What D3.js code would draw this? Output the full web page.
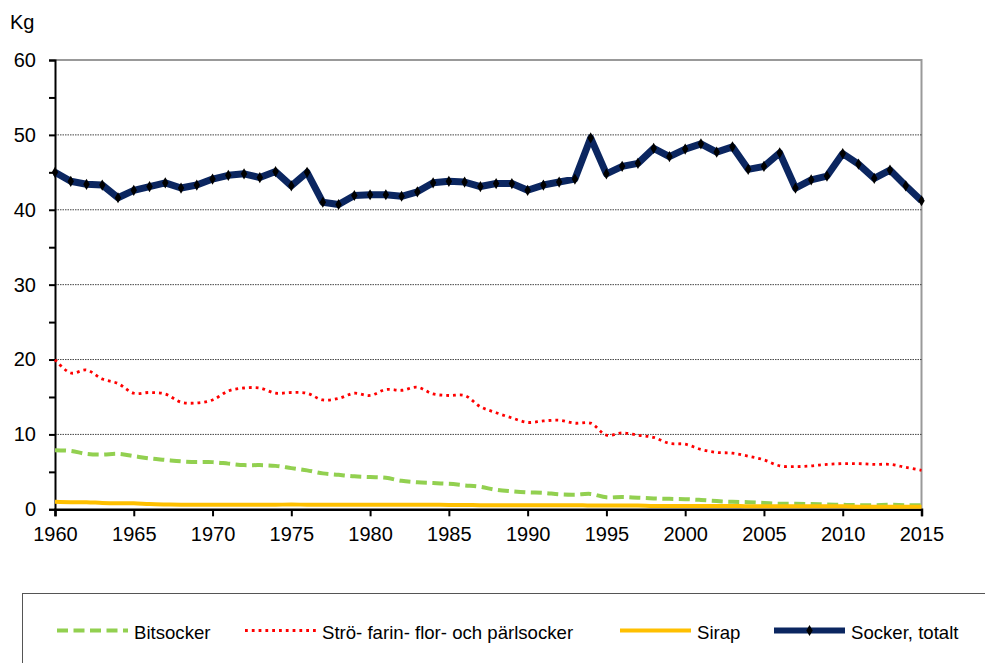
<!DOCTYPE html>
<html>
<head>
<meta charset="utf-8">
<script src="https://cdn.jsdelivr.net/npm/d3@7"></script>
<style>
  body { margin: 0; background: #fff; }
  svg { display: block; font-family: Arial, "Liberation Sans", sans-serif; }
</style>
</head>
<body>
<div id="chart"></div>
<script>
const years = d3.range(1960, 2016);

const bitsocker = [7.9, 7.8, 7.4, 7.3, 7.4, 7.1, 6.8, 6.6, 6.4, 6.3, 6.3, 6.1, 5.9, 5.9, 5.8, 5.5,
  5.2, 4.8, 4.6, 4.4, 4.3, 4.2, 3.8, 3.6, 3.5, 3.4, 3.2, 3.0, 2.6, 2.4, 2.25, 2.2,
  2.0, 1.95, 2.05, 1.6, 1.65, 1.55, 1.45, 1.4, 1.35, 1.25, 1.1, 1.0, 0.95, 0.85,
  0.75, 0.75, 0.7, 0.65, 0.6, 0.55, 0.55, 0.6, 0.55, 0.55];

const strosocker = [20.0, 18.2, 18.6, 17.4, 16.8, 15.5, 15.6, 15.4, 14.3, 14.2, 14.6, 15.8,
  16.2, 16.2, 15.5, 15.6, 15.5, 14.6, 14.8, 15.5, 15.2, 16.0, 15.9, 16.3, 15.4, 15.2,
  15.2, 13.7, 12.9, 12.2, 11.6, 11.8, 11.9, 11.5, 11.5, 9.9, 10.2, 9.9, 9.6, 8.8,
  8.7, 8.0, 7.6, 7.5, 7.1, 6.6, 5.8, 5.7, 5.8, 6.0, 6.1, 6.1, 6.0, 6.0, 5.6, 5.2];

const sirap = [1.0, 0.95, 0.95, 0.85, 0.8, 0.8, 0.7, 0.65, 0.62, 0.6, 0.6, 0.6, 0.6, 0.6,
  0.6, 0.65, 0.6, 0.6, 0.6, 0.6, 0.6, 0.62, 0.6, 0.6, 0.6, 0.58, 0.58, 0.55, 0.55,
  0.55, 0.55, 0.55, 0.55, 0.55, 0.5, 0.5, 0.5, 0.5, 0.45, 0.45, 0.45, 0.45, 0.45,
  0.45, 0.4, 0.4, 0.4, 0.4, 0.4, 0.4, 0.4, 0.35, 0.35, 0.35, 0.35, 0.35];

const totalt = [45.0, 43.8, 43.4, 43.3, 41.6, 42.6, 43.1, 43.6, 42.9, 43.3, 44.1, 44.6,
  44.8, 44.3, 45.1, 43.2, 45.0, 41.0, 40.7, 41.9, 42.0, 42.0, 41.8, 42.4, 43.6, 43.8,
  43.7, 43.1, 43.5, 43.5, 42.6, 43.3, 43.7, 44.1, 49.6, 44.8, 45.8, 46.2, 48.2, 47.1,
  48.1, 48.8, 47.7, 48.4, 45.4, 45.8, 47.6, 42.9, 44.0, 44.5, 47.5, 46.1, 44.2, 45.3,
  43.2, 41.2];

const yTicks = [0, 10, 20, 30, 40, 50, 60];
const xTicks = d3.range(1960, 2016, 5);

const width = 985;
const height = 663;
const plot = { left: 55, right: 921.5, top: 60, bottom: 509.3 };

const svg = d3.select('#chart')
  .append('svg')
  .attr('width', width)
  .attr('height', height);

const x = d3.scaleLinear().domain([1960, 2015]).range([plot.left, plot.right]);
const y = d3.scaleLinear().domain([0, 60]).range([plot.bottom, plot.top]);

// frame: top and right in grey
svg.append('path')
  .attr('d', `M${plot.left},${plot.top}H${plot.right}V${plot.bottom}`)
  .attr('fill', 'none')
  .attr('stroke', '#999')
  .attr('stroke-width', 2);

// gridlines
svg.append('g')
  .selectAll('line')
  .data(yTicks.filter(d => d > 0 && d < 60))
  .join('line')
    .attr('x1', plot.left)
    .attr('x2', plot.right)
    .attr('y1', d => y(d))
    .attr('y2', d => y(d))
    .attr('stroke', '#444')
    .attr('stroke-width', 1)
    .attr('stroke-dasharray', '1.5,1');

// y axis
const yAxis = svg.append('g')
  .attr('transform', `translate(${plot.left},0)`)
  .call(d3.axisLeft(y).tickValues(d3.range(0, 61, 5)).tickSize(6).tickFormat(d => d % 10 === 0 ? d : ''));
yAxis.attr('font-family', null).attr('font-size', null);
yAxis.select('.domain').attr('stroke', '#000').attr('stroke-width', 2);
yAxis.selectAll('.tick line').attr('stroke', '#000').attr('stroke-width', 2);
yAxis.selectAll('.tick text')
  .attr('font-size', 20)
  .attr('fill', '#000')
  .attr('x', -19);

// x axis
const xAxis = svg.append('g')
  .attr('transform', `translate(0,${plot.bottom})`)
  .call(d3.axisBottom(x).tickValues(xTicks).tickSize(7).tickFormat(d3.format('d')));
xAxis.attr('font-family', null).attr('font-size', null);
xAxis.select('.domain').attr('stroke', '#000').attr('stroke-width', 2.5);
xAxis.selectAll('.tick line').attr('stroke', '#000').attr('stroke-width', 2);
xAxis.selectAll('.tick text')
  .attr('font-size', 20)
  .attr('fill', '#000')
  .attr('y', 18);

svg.append('text')
  .attr('x', 10)
  .attr('y', 29)
  .attr('font-size', 20)
  .text('Kg');

const smooth = d3.line()
  .x((d, i) => x(years[i]))
  .y(d => y(d))
  .curve(d3.curveCatmullRom.alpha(0.5));

const straight = d3.line()
  .x((d, i) => x(years[i]))
  .y(d => y(d));

const series = [
  { name: 'Bitsocker', values: bitsocker, color: '#92d050', width: 4, dash: '11,5.5', line: smooth },
  { name: 'Strö- farin- flor- och pärlsocker', values: strosocker, color: '#ff0000', width: 2.8, dash: '2.8,4', line: smooth },
  { name: 'Sirap', values: sirap, color: '#ffc000', width: 4, dash: null, line: smooth },
  { name: 'Socker, totalt', values: totalt, color: '#0b2660', width: 7, dash: null, line: straight }
];

series.forEach(s => {
  svg.append('path')
    .datum(s.values)
    .attr('d', s.line)
    .attr('fill', 'none')
    .attr('stroke', s.color)
    .attr('stroke-width', s.width)
    .attr('stroke-linejoin', 'round')
    .attr('stroke-dasharray', s.dash);
});

const diamond = d3.symbol().type(d3.symbolDiamond).size(36);
svg.append('g')
  .selectAll('path')
  .data(totalt)
  .join('path')
    .attr('transform', (d, i) => `translate(${x(years[i])},${y(d)})`)
    .attr('d', diamond)
    .attr('fill', '#000');

// legend
const legend = svg.append('g');
legend.append('rect')
  .attr('x', 22.5)
  .attr('y', 593.5)
  .attr('width', 1000)
  .attr('height', 120)
  .attr('fill', '#fff')
  .attr('stroke', '#555')
  .attr('stroke-width', 1);

const legendX = [57, 245, 620, 774];
const legendY = 630.5;
series.forEach((s, i) => {
  const g = legend.append('g').attr('transform', `translate(${legendX[i]},${legendY})`);
  g.append('line')
    .attr('x1', 0).attr('x2', 71)
    .attr('stroke', s.color)
    .attr('stroke-width', s.width === 7 ? 6 : s.width)
    .attr('stroke-dasharray', s.dash);
  if (s.name === 'Socker, totalt') {
    g.append('path').attr('transform', 'translate(35.5,0)').attr('d', diamond).attr('fill', '#000');
  }
  g.append('text')
    .attr('x', 77)
    .attr('y', 8)
    .attr('font-size', 18.6)
    .text(s.name);
});
</script>
</body>
</html>
